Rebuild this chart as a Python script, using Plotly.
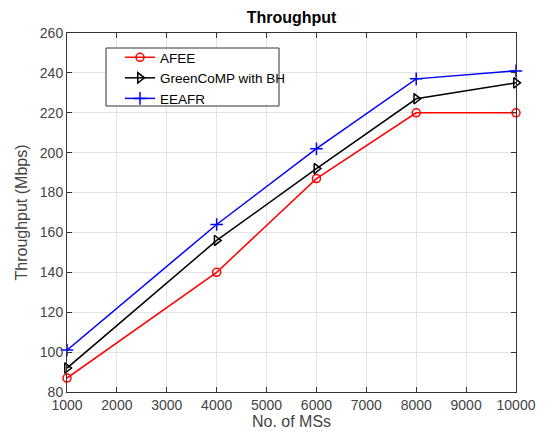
import plotly.graph_objects as go

ms = [1000, 4000, 6000, 8000, 10000]
afee = [87, 140, 187, 220, 220]
greencomp = [92, 156, 192, 227, 235]
eeafr = [101, 164, 202, 237, 241]
x_ticks = [1000, 2000, 3000, 4000, 5000, 6000, 7000, 8000, 9000, 10000]
y_ticks = [80, 100, 120, 140, 160, 180, 200, 220, 240, 260]

font = "Liberation Sans, Arial, sans-serif"
L, R, T, B = 67, 516, 33, 392
W, H = 547, 437
pw, ph = R - L, B - T

fig = go.Figure()
fig.add_trace(go.Scatter(x=ms, y=afee, name="AFEE", mode="lines+markers", cliponaxis=False,
                         line=dict(color="#ff0000", width=1.5),
                         marker=dict(symbol="circle-open", size=8, color="#ff0000", line=dict(width=1.5))))
fig.add_trace(go.Scatter(x=ms, y=greencomp, name="GreenCoMP with BH", mode="lines+markers", cliponaxis=False,
                         line=dict(color="#000000", width=1.5),
                         marker=dict(symbol="triangle-right-open", size=9, color="#000000", line=dict(width=1.5))))
fig.add_trace(go.Scatter(x=ms, y=eeafr, name="EEAFR", mode="lines+markers", cliponaxis=False,
                         line=dict(color="#0000ff", width=1.5),
                         marker=dict(symbol="cross-thin-open", size=9, color="#0000ff", line=dict(width=1.5))))

axis_common = dict(showline=True, linecolor="#333333", linewidth=1, mirror="ticks",
                   ticks="inside", ticklen=5, tickcolor="#333333", automargin=False,
                   showgrid=True, gridcolor="#e3e3e3", gridwidth=1, zeroline=False,
                   tickfont=dict(family=font, size=14, color="#444444"))

# legend border box (text overflows it in the reference)
fig.add_shape(type="rect", xref="paper", yref="paper",
              x0=(106 - L) / pw, x1=(279 - L) / pw,
              y0=1 - (106 - T) / ph, y1=1 - (48 - T) / ph,
              line=dict(color="#333333", width=1), fillcolor="white", layer="above")

fig.update_layout(
    width=W, height=H,
    margin=dict(l=L, r=W - R, t=T, b=H - B),
    paper_bgcolor="white", plot_bgcolor="white",
    title=dict(text="<b>Throughput</b>", x=(L + R) / 2 / W, xanchor="center",
               y=1 - 17 / H, yanchor="middle", font=dict(family=font, size=16, color="#000000")),
    xaxis=dict(range=[1000, 10000], tickvals=x_ticks, ticktext=[str(v) for v in x_ticks],
               title=dict(text="No. of MSs", font=dict(family=font, size=16, color="#444444"), standoff=0),
               **axis_common),
    yaxis=dict(range=[80, 260], tickvals=y_ticks, ticktext=[str(v) for v in y_ticks],
               title=dict(text="Throughput (Mbps)", font=dict(family=font, size=16, color="#444444"), standoff=8),
               **axis_common),
    legend=dict(x=(120 - L) / pw, y=1 - (42 - T) / ph, xanchor="left", yanchor="top",
                bgcolor="rgba(0,0,0,0)", borderwidth=0,
                font=dict(family=font, size=13.5, color="#000000"),
                tracegroupgap=0),
    showlegend=True,
)
fig.write_html("out.html", config={"displayModeBar": False},
               post_script="document.body.style.margin='0';document.body.style.overflow='hidden';")
